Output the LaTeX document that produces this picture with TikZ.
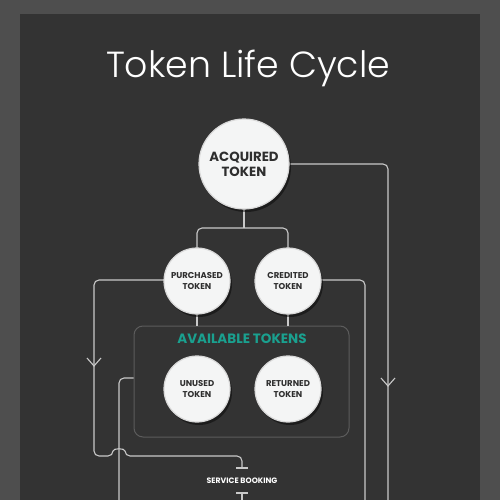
\documentclass[tikz,border=0pt]{standalone}
\usepackage{fontspec}
\setmainfont{Poppins}
\newfontfamily\lightfont{Poppins Light}
\usetikzlibrary{arrows.meta,shadows}
\definecolor{outerbg}{HTML}{4E4E4E}
\definecolor{innerbg}{HTML}{333333}
\definecolor{linec}{HTML}{C9C9C9}
\definecolor{boxc}{HTML}{5C5C5C}
\definecolor{teal}{HTML}{1AA08F}
\definecolor{circfill}{HTML}{F4F5F5}
\definecolor{circtext}{HTML}{2E2E2E}
\tikzset{
  conn/.style={draw=linec, line width=1.1pt, rounded corners=5pt},
  circbase/.style={circle, fill=circfill, draw=black!15, line width=1.2pt,
    align=center, text=circtext, font=\bfseries, inner sep=0pt,
    drop shadow={shadow xshift=2pt, shadow yshift=-3pt, opacity=0.45, fill=black}},
  bigc/.style={circbase, minimum size=90pt, font=\bfseries\fontsize{13.3}{15}\selectfont},
  smc/.style={circbase, minimum size=66pt, font=\bfseries\fontsize{8.5}{10.5}\selectfont},
  availbox/.style={draw=boxc, line width=1pt, rounded corners=9pt, minimum width=215pt, minimum height=111pt, inner sep=0pt},
  chev/.style={draw=linec, line width=1.1pt},
  tbar/.style={draw=linec, line width=1.1pt}
}
\begin{document}
\begin{tikzpicture}[x=1pt,y=-1pt]
\useasboundingbox (0,0) rectangle (500,500);
\fill[outerbg] (0,0) rectangle (500,500);
\fill[innerbg] (20,14) rectangle (480,500);
\node[text=white, font=\lightfont\fontsize{36.3}{40}\selectfont] (title) at (248,68.5) {Token Life Cycle};
% available box
\node[availbox] (avail) at (241.5,381.5) {};
\node[text=teal, font=\bfseries\fontsize{13.5}{15}\selectfont] (availt) at (242,339) {AVAILABLE TOKENS};
% coordinates
\coordinate (split) at (244,228);
\coordinate (rbot) at (388,500);
\coordinate (cbot) at (365,500);
\coordinate (lbot) at (119,500);
\coordinate (chl) at (94,366);
\coordinate (chr) at (388,386);
\coordinate (sbtop) at (242,468);
\coordinate (sbbot) at (242,493);
\coordinate (sbend) at (242,500);
% connectors (drawn before circles)
\draw[conn] (244,164) -- (split);
\draw[conn] (197,281) |- (split) -| (288,281);
\draw[conn] (244,164) -| (rbot);
\draw[conn] (288,280) -| (cbot);
\draw[conn] (197,281) -- (197,326);
\draw[conn] (288,281) -- (288,326);
\draw[conn] (avail.west |- 0,378) -| (lbot);
\draw[conn] (197,280) -| (94,456) -- (113,456) .. controls (113,448) and (125,448) .. (125,456) -| (sbtop);
\draw[tbar] (236,468) -- (248,468);
\draw[tbar] (236,493) -- (248,493);
\draw[conn] (sbbot) -- (sbend);
\draw[chev] (chl) ++(-7,-8) -- (chl) -- ++(7,-8);
\draw[chev] (chr) ++(-7,-8) -- (chr) -- ++(7,-8);
% circles
\node[bigc] (acq) at (244,164) {ACQUIRED\\TOKEN};
\node[smc] (pur) at (197,281) {PURCHASED\\TOKEN};
\node[smc] (cre) at (288,281) {CREDITED\\TOKEN};
\node[smc] (unu) at (197,389) {UNUSED\\TOKEN};
\node[smc] (ret) at (288,389) {RETURNED\\TOKEN};
\node[text=white, font=\bfseries\fontsize{7.8}{9}\selectfont] (svc) at (242,480.5) {SERVICE BOOKING};
\end{tikzpicture}
\end{document}
